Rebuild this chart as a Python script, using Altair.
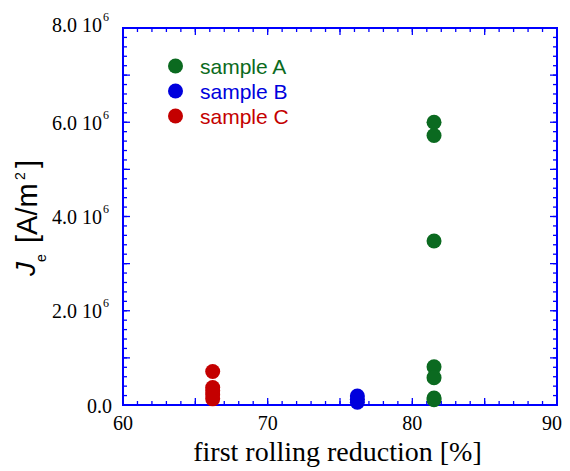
import altair as alt
import pandas as pd

# ---- data ----
sample_names = ["sample A", "sample B", "sample C"]
sample_colors = ["#0b6a20", "#0000dd", "#c40000"]

a_reduction = 81.5
a_je = [6.00e6, 5.72e6, 3.48e6, 0.81e6, 0.58e6, 0.15e6, 0.11e6]
b_reduction = 76.2
b_je = [0.19e6, 0.12e6, 0.06e6]
c_reduction = 66.2
c_je = [0.71e6, 0.37e6, 0.30e6, 0.22e6, 0.13e6]

x_tick_labels = [60, 70, 80]
x_last_label = [90]
y_label_values = [2e6, 4e6, 6e6]
y_label_texts = ["2.0 10", "4.0 10", "6.0 10"]
y_top_value = [8e6]
y_top_text = ["8.0 10"]
y_label_sup = "6"

x_minor = [60 + i for i in range(31)]
x_major = [60 + 5 * i for i in range(7)]
y_minor = [i * 0.2e6 for i in range(41)]
y_major = [i * 1e6 for i in range(9)]

# ---- tables ----
pts = pd.DataFrame(
    [{"sample": "sample A", "x": a_reduction, "y": v} for v in a_je]
    + [{"sample": "sample B", "x": b_reduction, "y": v} for v in b_je]
    + [{"sample": "sample C", "x": c_reduction, "y": v} for v in c_je]
)

W, H = 434, 377
xs = alt.Scale(domain=[60, 90], nice=False, zero=False)
ys = alt.Scale(domain=[0, 8e6], nice=False, zero=False)
cs = alt.Scale(domain=sample_names, range=sample_colors)
BLUE = "#0000ff"

points = alt.Chart(pts).mark_point(filled=True, size=225, opacity=1).encode(
    x=alt.X("x:Q", scale=xs, axis=None),
    y=alt.Y("y:Q", scale=ys, axis=None),
    color=alt.Color("sample:N", scale=cs, legend=None),
)

def xticks(vals, length):
    df = pd.DataFrame({"v": vals})
    bottom = alt.Chart(df).mark_rule(color=BLUE, strokeWidth=1.3).encode(
        x=alt.X("v:Q", scale=xs, axis=None), y=alt.value(H), y2=alt.value(H - length))
    top = alt.Chart(df).mark_rule(color=BLUE, strokeWidth=1.3).encode(
        x=alt.X("v:Q", scale=xs, axis=None), y=alt.value(0), y2=alt.value(length))
    return bottom + top

def yticks(vals, length):
    df = pd.DataFrame({"v": vals})
    left = alt.Chart(df).mark_rule(color=BLUE, strokeWidth=1.3).encode(
        y=alt.Y("v:Q", scale=ys, axis=None), x=alt.value(0), x2=alt.value(length))
    right = alt.Chart(df).mark_rule(color=BLUE, strokeWidth=1.3).encode(
        y=alt.Y("v:Q", scale=ys, axis=None), x=alt.value(W), x2=alt.value(W - length))
    return left + right

ticks = xticks(x_minor, 4) + xticks(x_major, 7) + yticks(y_minor, 4) + yticks(y_major, 7)

frame = alt.Chart(pd.DataFrame({"k": [0]})).mark_rect(
    fill=None, fillOpacity=0, stroke=BLUE, strokeWidth=2
).encode(x=alt.value(0), x2=alt.value(W), y=alt.value(0), y2=alt.value(H))

serif = "Liberation Serif"
sans = "Liberation Sans"

xlab = alt.Chart(pd.DataFrame({"v": x_tick_labels})).mark_text(
    font=serif, fontSize=20, align="center", baseline="alphabetic", color="black"
).encode(x=alt.X("v:Q", scale=xs, axis=None), y=alt.value(402), text="v:Q")
xlab_last = alt.Chart(pd.DataFrame({"v": x_last_label})).mark_text(
    font=serif, fontSize=20, align="right", baseline="alphabetic", dx=5, color="black"
).encode(x=alt.X("v:Q", scale=xs, axis=None), y=alt.value(402), text="v:Q")

def ylabels(values, texts, dy):
    df = pd.DataFrame({"v": values, "t": texts, "s": [y_label_sup] * len(values)})
    main = alt.Chart(df).mark_text(
        font=serif, fontSize=20, align="right", baseline="alphabetic", dy=dy, color="black"
    ).encode(y=alt.Y("v:Q", scale=ys, axis=None), x=alt.value(-21), text="t:N")
    sup = alt.Chart(df).mark_text(
        font=serif, fontSize=12, align="left", baseline="alphabetic", dy=dy - 11, color="black"
    ).encode(y=alt.Y("v:Q", scale=ys, axis=None), x=alt.value(-20), text="s:N")
    return main + sup

ylab = ylabels(y_label_values, y_label_texts, 7.5) + ylabels(y_top_value, y_top_text, 4)
yzero = alt.Chart(pd.DataFrame({"v": [0.0], "t": ["0.0"]})).mark_text(
    font=serif, fontSize=20, align="right", baseline="alphabetic", dy=7.5, color="black"
).encode(y=alt.Y("v:Q", scale=ys, axis=None), x=alt.value(-11), text="t:N")

xtitle = alt.Chart(pd.DataFrame({"t": ["first rolling reduction [%]"]})).mark_text(
    font=serif, fontSize=28, align="center", baseline="alphabetic", color="black"
).encode(x=alt.value(214.5), y=alt.value(433), text="t:N")

def rot(text, x, y, size, align="center", italic=False):
    kw = dict(font=sans, fontSize=size, angle=270, align=align, baseline="alphabetic", color="black")
    if italic:
        kw["fontStyle"] = "italic"
    return alt.Chart(pd.DataFrame({"t": [text]})).mark_text(**kw).encode(
        x=alt.value(x), y=alt.value(y), text="t:N")

ytitle = (
    rot("J", -88, 241, 28, italic=True)
    + rot("e", -77, 230, 14)
    + rot("[A/m", -86, 215, 29, align="left")
    + rot("2", -98, 148, 14)
    + rot("]", -86, 136, 29)
)

leg_y = {"sample A": 38, "sample B": 63, "sample C": 88}
legend_layers = []
for name in sample_names:
    d = pd.DataFrame({"sample": [name]})
    legend_layers.append(
        alt.Chart(d).mark_point(filled=True, size=225, opacity=1).encode(
            x=alt.value(52.5), y=alt.value(leg_y[name]),
            color=alt.Color("sample:N", scale=cs, legend=None))
    )
    legend_layers.append(
        alt.Chart(d).mark_text(font=sans, fontSize=21, align="left", baseline="alphabetic", dy=8).encode(
            x=alt.value(77), y=alt.value(leg_y[name]), text="sample:N",
            color=alt.Color("sample:N", scale=cs, legend=None))
    )

chart = alt.layer(
    ticks, frame, points, xlab, xlab_last, ylab, yzero, xtitle, ytitle, *legend_layers
).properties(
    width=W, height=H,
    autosize=alt.AutoSizeParams(type="none"),
    padding={"left": 115, "top": 20, "right": 5, "bottom": 62},
).configure_view(stroke=None).configure(background="white")

chart.save("out.html", embed_options={"renderer": "svg", "actions": False})
